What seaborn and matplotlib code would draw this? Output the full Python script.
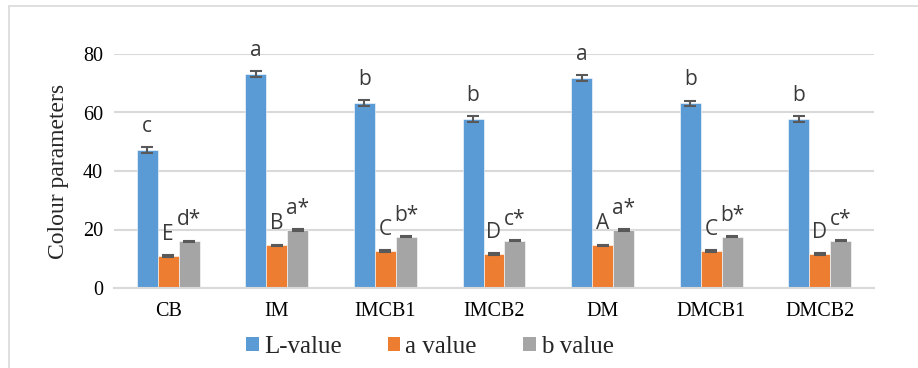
import numpy as np
import pandas as pd
import matplotlib
matplotlib.use("Agg")
import matplotlib.pyplot as plt
from matplotlib.lines import Line2D
from matplotlib.patches import Patch
import seaborn as sns

# Samples and measured colour parameters (mean values)
samples = ["CB", "IM", "IMCB1", "IMCB2", "DM", "DMCB1", "DMCB2"]
series = ["L-value", "a value", "b value"]
l_value = [47.1, 73.1, 63.3, 57.7, 71.7, 63.1, 57.7]
a_value = [10.9, 14.6, 12.6, 11.7, 14.6, 12.6, 11.7]
b_value = [15.9, 19.9, 17.6, 16.2, 19.9, 17.6, 16.2]
# Standard errors
l_err = [1.0, 1.0, 1.0, 1.0, 1.0, 1.0, 1.0]
a_err = [0.25, 0.25, 0.25, 0.25, 0.25, 0.25, 0.25]
b_err = [0.25, 0.25, 0.25, 0.25, 0.25, 0.25, 0.25]
# Significance letters
l_letters = ["c", "a", "b", "b", "a", "b", "b"]
a_letters = ["E", "B", "C", "D", "A", "C", "D"]
b_letters = ["d*", "a*", "b*", "c*", "a*", "b*", "c*"]

colors = ["#5B9BD5", "#ED7D31", "#A5A5A5"]

df = pd.DataFrame({
    "sample": samples * 3,
    "series": [series[0]] * 7 + [series[1]] * 7 + [series[2]] * 7,
    "value": l_value + a_value + b_value,
})

sns.set_style("white")
plt.rcParams["font.family"] = ["Liberation Serif", "DejaVu Serif"]

fig = plt.figure(figsize=(9.18, 3.68), dpi=100)
ax = fig.add_axes([114 / 918, 1 - 288 / 368, 760 / 918, 234 / 368])

sns.barplot(data=df, x="sample", y="value", hue="series", palette=colors,
            saturation=1, width=0.58, gap=0, errorbar=None, ax=ax, legend=False,
            edgecolor="white", linewidth=0.4, zorder=2)

ax.set_ylim(0, 80)
ax.set_xlim(-0.5, 6.5)
ax.set_yticks([0, 20, 40, 60, 80])
ax.yaxis.grid(True, color="#D9D9D9", linewidth=1.5, zorder=0)
ax.set_axisbelow(True)
for s in ["top", "right", "left"]:
    ax.spines[s].set_visible(False)
ax.spines["bottom"].set_color("#D9D9D9")
ax.spines["bottom"].set_linewidth(1.5)
ax.tick_params(axis="both", length=0, labelsize=14.5, colors="black")
ax.tick_params(axis="x", pad=10)
ax.tick_params(axis="y", pad=8)
ax.set_xlabel("")
ax.set_ylabel("Colour parameters", fontsize=17, labelpad=10)

# Error bars and letter labels placed on the seaborn bars
vals = [l_value, a_value, b_value]
errs = [l_err, a_err, b_err]
letters = [l_letters, a_letters, b_letters]
patches = [p for p in ax.patches if p.get_height() > 0]
patches = sorted(patches, key=lambda p: p.get_x())
for k, p in enumerate(patches):
    i, j = divmod(k, 3)
    xc = p.get_x() + p.get_width() / 2
    v, e = vals[j][i], errs[j][i]
    ax.errorbar(xc, v, yerr=e, fmt="none", ecolor="#595959",
                elinewidth=1.5, capsize=4.5, capthick=1.5, zorder=3)
    ax.annotate(letters[j][i], (xc, v + e), xytext=(0, 11),
                textcoords="offset points", ha="center", va="baseline",
                fontsize=15, family=["Open Sans", "DejaVu Sans"],
                color="#3A3A3A", annotation_clip=False)

handles = [Patch(facecolor=c, edgecolor="none") for c in colors]
fig.legend(handles, series, loc="center", bbox_to_anchor=(430 / 918, 1 - 347 / 368),
           ncol=3, frameon=False, fontsize=18, handlelength=0.5, handleheight=0.5,
           handletextpad=0.2, columnspacing=1.85)

# Chart area frame
fig.add_artist(Line2D([8.5 / 918, 1], [1 - 5.5 / 368, 1 - 5.5 / 368],
                      transform=fig.transFigure, color="#D9D9D9", linewidth=1.2))
fig.add_artist(Line2D([8.5 / 918, 8.5 / 918], [0, 1 - 5.5 / 368],
                      transform=fig.transFigure, color="#D9D9D9", linewidth=1.2))

fig.savefig("out.png", dpi=100)
